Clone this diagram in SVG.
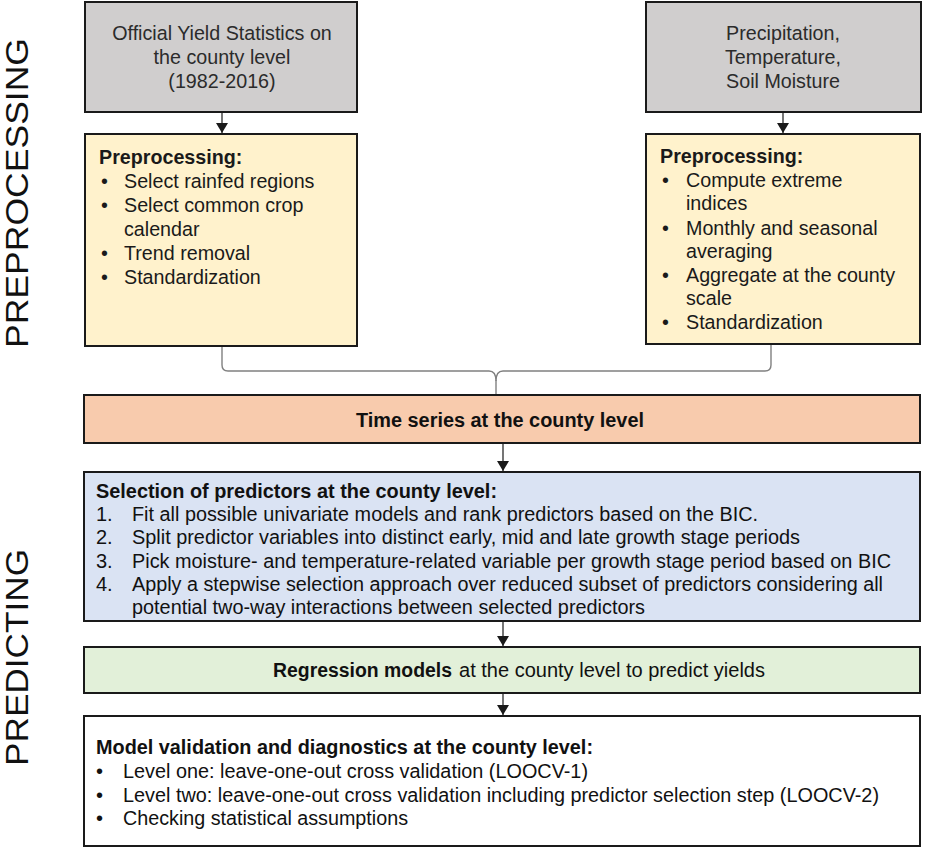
<svg xmlns="http://www.w3.org/2000/svg" width="927" height="849" viewBox="0 0 927 849">
<defs>
<style>
.box{stroke:#1a1a1a;stroke-width:2}
.gray{fill:#d0cece}
.yel{fill:#fff2cc}
.org{fill:#f8cbad}
.blu{fill:#dae3f3}
.grn{fill:#e2f0d9}
.wht{fill:#ffffff}
.t{font-family:"Liberation Sans",Arial,sans-serif;font-size:19.7px;fill:#1a1a1a}
.tg{font-family:"Liberation Sans",Arial,sans-serif;font-size:19.7px;fill:#2b2b2b;text-anchor:middle}
.b{font-weight:bold}
.n{font-family:"Liberation Sans Narrow","Liberation Sans",Arial,sans-serif;font-size:20px;fill:#111111}
.side{font-family:"Liberation Sans Narrow","Liberation Sans",Arial,sans-serif;font-size:32px;fill:#111111}
.arr{stroke:#1a1a1a;stroke-width:1.2;fill:none}
.brace{stroke:#808080;stroke-width:1.4;fill:none}
</style>
<marker id="ah" markerUnits="userSpaceOnUse" markerWidth="12" markerHeight="13" refX="10" refY="6" orient="auto">
<path d="M0,0 L10,6 L0,12 Z" fill="#1a1a1a"/>
</marker>
</defs>
<rect width="927" height="849" fill="#ffffff"/>

<g id="label-preprocessing">
<text class="side" transform="translate(28,348) rotate(-90)" textLength="310" lengthAdjust="spacingAndGlyphs">PREPROCESSING</text>
</g>
<g id="label-predicting">
<text class="side" transform="translate(28,766) rotate(-90)" textLength="217" lengthAdjust="spacingAndGlyphs">PREDICTING</text>
</g>

<g id="connectors">
<line class="arr" x1="222" y1="112" x2="222" y2="133" marker-end="url(#ah)"/>
<line class="arr" x1="783" y1="112" x2="783" y2="133" marker-end="url(#ah)"/>
<path class="brace" d="M222,347 V365 Q222,371 228,371 H489 Q496,371 496,381 Q496,371 503,371 H765 Q771,371 771,365 V345"/>
<line class="brace" x1="496" y1="380" x2="496" y2="395"/>
<line class="arr" x1="503" y1="443" x2="503" y2="471" marker-end="url(#ah)"/>
<line class="arr" x1="503" y1="621" x2="503" y2="646" marker-end="url(#ah)"/>
<line class="arr" x1="503" y1="693" x2="503" y2="715" marker-end="url(#ah)"/>
</g>

<g id="yield-stats">
<rect class="box gray" x="85" y="2" width="272" height="110"/>
<text class="tg" x="222" y="40">Official Yield Statistics on</text>
<text class="tg" x="222" y="64">the county level</text>
<text class="tg" x="222" y="88">(1982-2016)</text>
</g>

<g id="climate-data">
<rect class="box gray" x="646" y="2" width="275" height="110"/>
<text class="tg" x="783" y="40">Precipitation,</text>
<text class="tg" x="783" y="64">Temperature,</text>
<text class="tg" x="783" y="88">Soil Moisture</text>
</g>

<g id="preprocessing-yield">
<rect class="box yel" x="85" y="134" width="272" height="212"/>
<text class="t b" x="99" y="164">Preprocessing:</text>
<text class="t" x="101" y="188">•</text><text class="t" x="124" y="188">Select rainfed regions</text>
<text class="t" x="101" y="212">•</text><text class="t" x="124" y="212">Select common crop</text>
<text class="t" x="124" y="236">calendar</text>
<text class="t" x="101" y="260">•</text><text class="t" x="124" y="260">Trend removal</text>
<text class="t" x="101" y="284">•</text><text class="t" x="124" y="284">Standardization</text>
</g>

<g id="preprocessing-climate">
<rect class="box yel" x="646" y="134" width="274" height="210"/>
<text class="t b" x="660" y="163">Preprocessing:</text>
<text class="t" x="662" y="187">•</text><text class="t" x="686" y="187">Compute extreme</text>
<text class="t" x="686" y="210">indices</text>
<text class="t" x="662" y="235">•</text><text class="t" x="686" y="235">Monthly and seasonal</text>
<text class="t" x="686" y="258">averaging</text>
<text class="t" x="662" y="282">•</text><text class="t" x="686" y="282">Aggregate at the county</text>
<text class="t" x="686" y="305">scale</text>
<text class="t" x="662" y="329">•</text><text class="t" x="686" y="329">Standardization</text>
</g>

<g id="time-series">
<rect class="box org" x="84" y="395" width="836" height="48"/>
<text class="n b" x="356" y="427" textLength="288" lengthAdjust="spacingAndGlyphs">Time series at the county level</text>
</g>

<g id="predictor-selection">
<rect class="box blu" x="84" y="472" width="836" height="149"/>
<text class="n b" x="96" y="498" textLength="401" lengthAdjust="spacingAndGlyphs">Selection of predictors at the county level:</text>
<text class="n" x="96" y="521">1.</text>
<text class="n" x="132" y="521" textLength="626" lengthAdjust="spacingAndGlyphs">Fit all possible univariate models and rank predictors based on the BIC.</text>
<text class="n" x="96" y="544">2.</text>
<text class="n" x="132" y="544" textLength="668" lengthAdjust="spacingAndGlyphs">Split predictor variables into distinct early, mid and late growth stage periods</text>
<text class="n" x="96" y="568">3.</text>
<text class="n" x="132" y="568" textLength="759" lengthAdjust="spacingAndGlyphs">Pick moisture- and temperature-related variable per growth stage period based on BIC</text>
<text class="n" x="96" y="591">4.</text>
<text class="n" x="132" y="591" textLength="751" lengthAdjust="spacingAndGlyphs">Apply a stepwise selection approach over reduced subset of predictors considering all</text>
<text class="n" x="132" y="614" textLength="513" lengthAdjust="spacingAndGlyphs">potential two-way interactions between selected predictors</text>
</g>

<g id="regression-models">
<rect class="box grn" x="84" y="647" width="836" height="46"/>
<text class="n b" x="273" y="677" textLength="179" lengthAdjust="spacingAndGlyphs">Regression models</text>
<text class="n" x="459" y="677" textLength="306" lengthAdjust="spacingAndGlyphs">at the county level to predict yields</text>
</g>

<g id="model-validation">
<rect class="box wht" x="84" y="716" width="836" height="130"/>
<text class="n b" x="96" y="754" textLength="497" lengthAdjust="spacingAndGlyphs">Model validation and diagnostics at the county level:</text>
<text class="n" x="96" y="778">•</text>
<text class="n" x="123" y="778" textLength="465" lengthAdjust="spacingAndGlyphs">Level one: leave-one-out cross validation (LOOCV-1)</text>
<text class="n" x="96" y="802">•</text>
<text class="n" x="123" y="802" textLength="756" lengthAdjust="spacingAndGlyphs">Level two: leave-one-out cross validation including predictor selection step (LOOCV-2)</text>
<text class="n" x="96" y="825">•</text>
<text class="n" x="123" y="825" textLength="285" lengthAdjust="spacingAndGlyphs">Checking statistical assumptions</text>
</g>
</svg>
